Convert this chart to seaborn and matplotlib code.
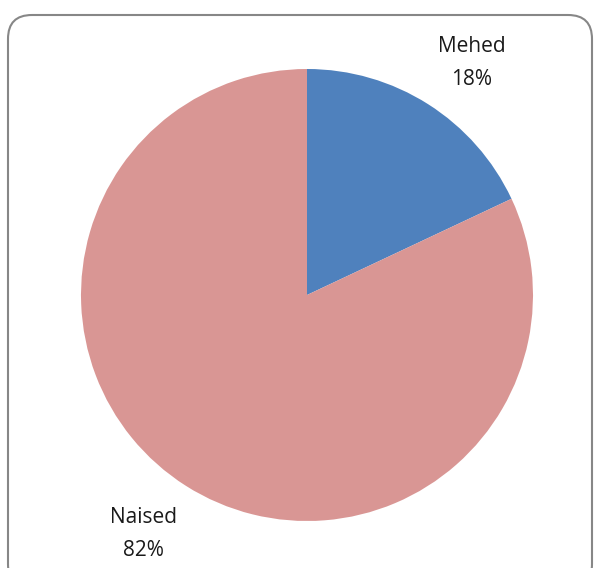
import matplotlib
matplotlib.use('Agg')
import matplotlib.pyplot as plt
import seaborn as sns
from matplotlib.patches import FancyBboxPatch

# Data
categories = ['Mehed', 'Naised']
shares = [18, 82]
colors = ['#4F81BD', '#D99694']

sns.set_style('white')
plt.rcParams['font.family'] = ['Open Sans', 'DejaVu Sans']

W, H = 598, 568
fig = plt.figure(figsize=(W / 100, H / 100), dpi=100)

# chart border with rounded corners
border = FancyBboxPatch((8 / W, -20 / H), 584 / W, (H - 15 + 20) / H,
                        boxstyle='round,pad=0,rounding_size=0.04',
                        transform=fig.transFigure, facecolor='none',
                        edgecolor='#878787', linewidth=1.5, mutation_aspect=W / H,
                        zorder=5)
fig.patches.append(border)

cx, cy, r = 307, 295, 226
ax = fig.add_axes([(cx - r) / W, (H - cy - r) / H, 2 * r / W, 2 * r / H])
labels = [f'{c}\n{s}%' for c, s in zip(categories, shares)]
wedges, texts = ax.pie(shares, labels=labels, colors=colors, startangle=90,
                       counterclock=False, labeldistance=1.27,
                       wedgeprops=dict(linewidth=0),
                       textprops=dict(fontsize=15, color='#1a1a1a',
                                      ha='center', va='center', linespacing=1.75))
# nudge labels to where the original puts them
nudges = [(0.049, -0.044), (-0.044, 0.014)]
for t, (dx, dy) in zip(texts, nudges):
    x, y = t.get_position()
    t.set_position((x + dx, y + dy))
ax.set_xlim(-1, 1)
ax.set_ylim(-1, 1)
ax.set_aspect('equal')
ax.axis('off')

fig.savefig('out.png', dpi=100)
